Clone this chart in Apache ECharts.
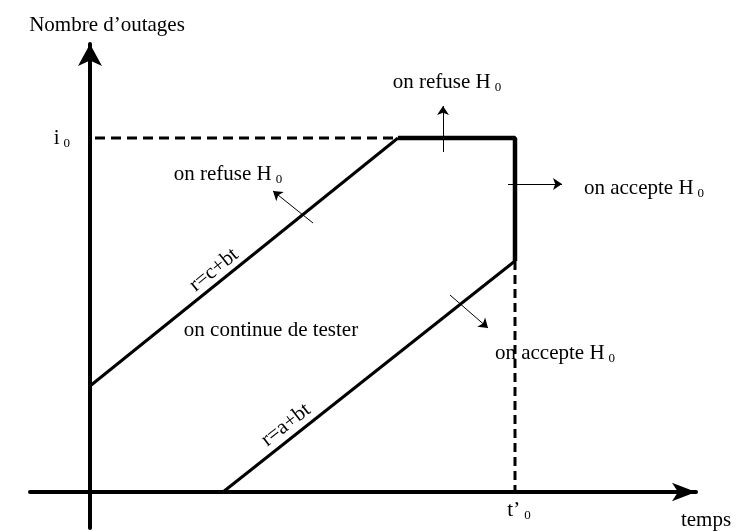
<!DOCTYPE html>
<html>
<head>
<meta charset="utf-8">
<script src="https://cdn.jsdelivr.net/npm/echarts@6/dist/echarts.min.js"></script>
<style>
  html, body { margin: 0; padding: 0; background: #fff; }
  #chart { width: 747px; height: 531px; }
</style>
</head>
<body>
<div id="chart"></div>
<script>
// regions du test sequentiel (unites arbitraires : temps / nombre d'outages)
const tPrime0 = 425;
const i0 = 354;
const rejectLine = [[0, 106], [308, 354]];               // r = c + bt
const rejectEdge = [[308, 354], [425, 354], [425, 231]];
const acceptLine = [[133, 0], [425, 231]];               // r = a + bt
const i0Guide = [[5, 354], [308, 354]];
const t0Guide = [[425, 231], [425, 0]];
const arrows = [
  [[353, 340], [353, 386]],
  [[418, 308], [472, 308]],
  [[223, 269], [183, 301]],
  [[360, 197], [398, 164]]
];
const noteTexts = ['on refuse H_0', 'on refuse H_0', 'on accepte H_0', 'on continue de tester', 'on accepte H_0', 'r=c+bt', 'r=a+bt'];
const noteAt = [[357, 410], [138, 318], [554, 304], [181, 162], [465, 139], [124, 222], [196, 67]];
const noteAngle = [0, 0, 0, 0, 0, 39, 38];

const FONT = 'Liberation Serif';
const rich = {
  n: { fontFamily: FONT, fontSize: 21, color: '#000' },
  s: { fontFamily: FONT, fontSize: 13, color: '#000', padding: [11, 0, 0, 4] }
};

// "H_0" -> H avec indice 0
function sub(str) {
  const k = str.indexOf('_');
  if (k < 0) return '{n|' + str + '}';
  return '{n|' + str.slice(0, k) + '}{s|' + str.slice(k + 1) + '}';
}

function seg(data, width, dash) {
  return {
    type: 'line',
    data: data,
    symbol: 'none',
    silent: true,
    lineStyle: { color: '#000', width: width, type: dash || 'solid', cap: 'butt' }
  };
}

const chart = echarts.init(document.getElementById('chart'));
chart.setOption({
  animation: false,
  backgroundColor: '#fff',
  grid: { left: 30, right: 51, top: 44, bottom: 3, containLabel: false, outerBoundsMode: 'none' },
  xAxis: {
    type: 'value',
    min: -60,
    max: 606,
    name: 'temps',
    nameLocation: 'end',
    nameGap: 10,
    nameTextStyle: { fontFamily: FONT, fontSize: 21, color: '#000', align: 'center', verticalAlign: 'top', padding: [18, 0, 0, 0] },
    axisLine: { symbol: ['none', 'arrow'], symbolSize: [14, 24], lineStyle: { color: '#000', width: 4 } },
    axisTick: { show: false },
    splitLine: { show: false },
    axisLabel: {
      customValues: [tPrime0],
      margin: -30,
      padding: [0, 0, 0, 8],
      formatter: () => '{n|t’}{s|0}',
      rich: rich
    }
  },
  yAxis: {
    type: 'value',
    min: -36,
    max: 448,
    name: 'Nombre d’outages',
    nameLocation: 'end',
    nameGap: 8,
    nameTextStyle: { fontFamily: FONT, fontSize: 21, color: '#000', align: 'center', padding: [0, 0, 0, 34] },
    axisLine: { symbol: ['none', 'arrow'], symbolSize: [18, 22], lineStyle: { color: '#000', width: 4 } },
    axisTick: { show: false },
    splitLine: { show: false },
    axisLabel: {
      customValues: [i0],
      margin: -40,
      formatter: () => '{n|i}{s|0}',
      rich: rich
    }
  },
  series: [
    seg(rejectLine, 3),
    seg(rejectEdge, 4.5),
    seg(acceptLine, 3),
    seg(i0Guide, 3, [10, 6]),
    seg(t0Guide, 3, [9, 5]),
    {
      type: 'lines',
      coordinateSystem: 'cartesian2d',
      silent: true,
      symbol: ['none', 'arrow'],
      symbolSize: 9,
      lineStyle: { color: '#000', width: 1, opacity: 1, curveness: 0 },
      data: arrows.map(c => ({ coords: c }))
    },
    {
      type: 'scatter',
      symbolSize: 0,
      silent: true,
      itemStyle: { opacity: 1 },
      data: noteTexts.map((t, k) => ({ value: noteAt[k], name: t, label: { rotate: noteAngle[k] } })),
      label: {
        show: true,
        position: 'inside',
        align: 'center',
        verticalAlign: 'middle',
        color: '#000',
        opacity: 1,
        formatter: p => sub(p.name),
        rich: rich
      }
    }
  ]
});
</script>
</body>
</html>
